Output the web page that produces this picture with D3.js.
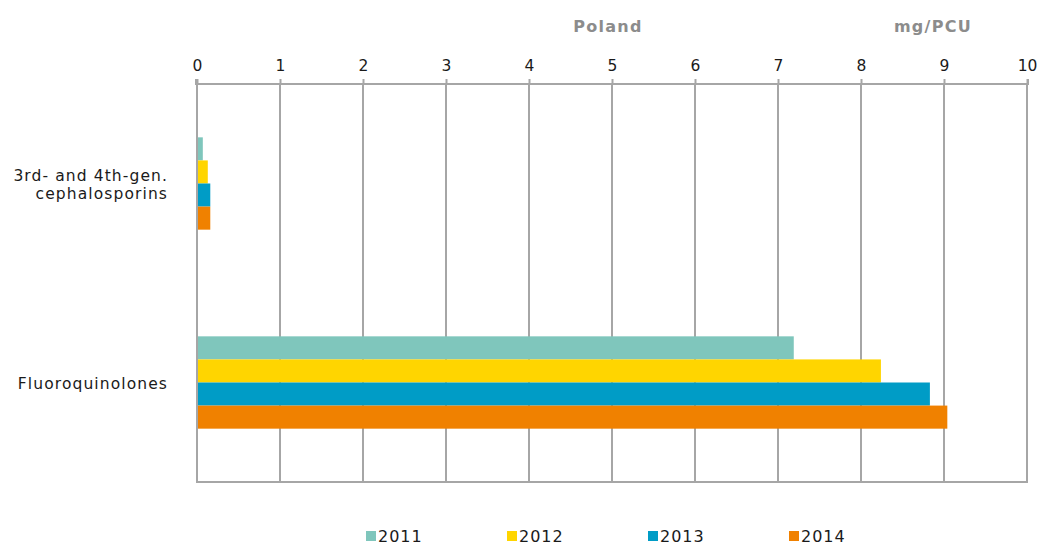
<!DOCTYPE html>
<html>
<head>
<meta charset="utf-8">
<script src="https://cdn.jsdelivr.net/npm/d3@7"></script>
<style>
  html, body { margin: 0; padding: 0; background: #ffffff; }
  svg { display: block; font-family: "DejaVu Sans", Verdana, sans-serif; }
</style>
</head>
<body>
<svg id="chart" width="1038" height="545"></svg>
<script>
// Consumption of selected antimicrobial classes, Poland (mg/PCU)
const categories = ["3rd- and 4th-gen.\ncephalosporins", "Fluoroquinolones"];
const years = ["2011", "2012", "2013", "2014"];
const values2011 = [0.07, 7.19];
const values2012 = [0.13, 8.24];
const values2013 = [0.16, 8.83];
const values2014 = [0.16, 9.04];
const xTicks = [0, 1, 2, 3, 4, 5, 6, 7, 8, 9, 10];
const colors = ["#7fc6bc", "#ffd500", "#009cc6", "#f08100"];

const seriesValues = [values2011, values2012, values2013, values2014];

const svg = d3.select("#chart");
const plotLeft = 197, plotRight = 1027, plotTop = 84, plotBottom = 482;
const gridColor = "#a6a6a6";
const textColor = "#1a1a1a";

const x = d3.scaleLinear().domain([0, 10]).range([plotLeft, plotRight]);
const y = d3.scaleBand().domain(categories).range([plotTop, plotBottom]).paddingInner(0).paddingOuter(0);
const groupFrac = 0.464;
const yInner = d3.scaleBand().domain(years)
  .range([0, y.bandwidth() * groupFrac]);

// vertical gridlines
svg.append("g").selectAll("line").data(xTicks.slice(1)).join("line")
  .attr("x1", d => x(d)).attr("x2", d => x(d))
  .attr("y1", plotTop).attr("y2", plotBottom)
  .attr("stroke", gridColor).attr("stroke-width", 2);

// bars
const groups = svg.append("g").selectAll("g").data(categories).join("g")
  .attr("transform", c => `translate(0,${y(c) + y.bandwidth() * (1 - groupFrac) / 2})`);
groups.selectAll("rect")
  .data((c, i) => years.map((yr, j) => ({ yr, j, v: seriesValues[j][i] })))
  .join("rect")
  .attr("x", x(0) + 1)
  .attr("y", d => yInner(d.yr))
  .attr("width", d => x(d.v) - x(0) - 1)
  .attr("height", yInner.bandwidth())
  .attr("fill", d => colors[d.j]);

// plot frame
svg.append("line").attr("x1", plotLeft).attr("x2", plotLeft).attr("y1", plotTop).attr("y2", plotBottom)
  .attr("stroke", gridColor).attr("stroke-width", 2);
svg.append("line").attr("x1", plotLeft - 1).attr("x2", plotRight + 1).attr("y1", plotBottom).attr("y2", plotBottom)
  .attr("stroke", gridColor).attr("stroke-width", 2);

// top axis
const xAxis = d3.axisTop(x).tickValues(xTicks).tickSize(5).tickPadding(8).tickFormat(d3.format("d"));
const ax = svg.append("g").attr("transform", `translate(0,${plotTop})`).call(xAxis);
ax.select(".domain").attr("stroke", gridColor).attr("stroke-width", 2)
  .attr("d", `M${plotLeft - 1},-5V0H${plotRight + 1}V-5`);
ax.selectAll(".tick line").attr("stroke", gridColor).attr("stroke-width", 2);
ax.selectAll(".tick text").attr("font-size", 15.5).attr("fill", textColor)
  .attr("font-family", "'DejaVu Sans', Verdana, sans-serif");

// titles
svg.append("text").attr("x", 608).attr("y", 32).attr("text-anchor", "middle")
  .attr("font-size", 16).attr("font-weight", "bold").attr("letter-spacing", 1.3)
  .attr("fill", "#8c8c8c").text("Poland");
svg.append("text").attr("x", 933).attr("y", 32).attr("text-anchor", "middle")
  .attr("font-size", 16).attr("font-weight", "bold").attr("letter-spacing", 1.3)
  .attr("fill", "#8c8c8c").text("mg/PCU");

// category labels
svg.append("g").selectAll("text").data(categories).join("text")
  .attr("text-anchor", "end")
  .attr("font-size", 15.5)
  .attr("letter-spacing", 1.1)
  .attr("fill", textColor)
  .each(function (c) {
    const lines = c.split("\n");
    const cy = y(c) + y.bandwidth() / 2 + 6;
    const t = d3.select(this);
    lines.forEach((ln, i) => {
      t.append("tspan").attr("x", 168)
        .attr("y", cy + (i - (lines.length - 1) / 2) * 18)
        .text(ln);
    });
  });

// legend
const legend = svg.append("g").selectAll("g").data(years).join("g")
  .attr("transform", (d, i) => `translate(${366 + i * 141},531)`);
legend.append("rect").attr("width", 10).attr("height", 10).attr("fill", (d, i) => colors[i]);
legend.append("text").attr("x", 12).attr("y", 11).attr("font-size", 16)
  .attr("letter-spacing", 1).attr("fill", textColor).text(d => d);
</script>
</body>
</html>
